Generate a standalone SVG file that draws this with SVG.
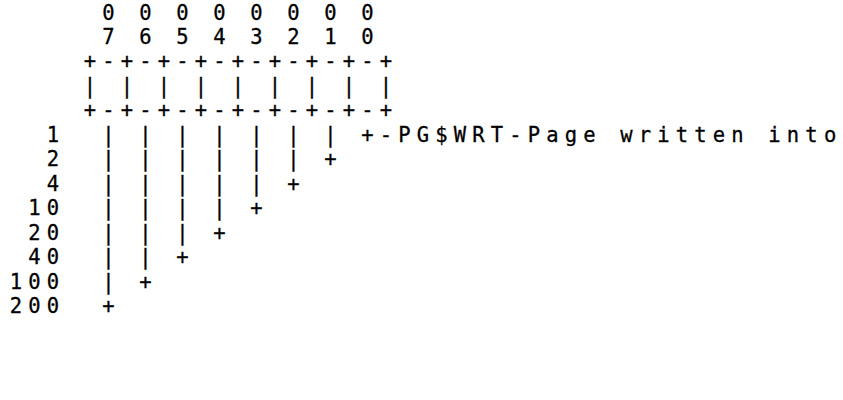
<svg xmlns="http://www.w3.org/2000/svg" width="843" height="400" viewBox="0 0 843 400">
  <style>
    text {
      font-family: "DejaVu Sans Mono", "Liberation Mono", monospace;
      font-size: 20.5px;
      letter-spacing: 6.16px;
      fill: #000;
      stroke: #000;
      stroke-width: 0.3px;
      white-space: pre;
    }
  </style>
  <rect width="843" height="400" fill="#fff"/>

  <!-- bit numbers above the register -->
  <g id="bit-numbers">
    <text x="102.33" y="19.5">0 0 0 0 0 0 0 0</text>
    <text x="102.33" y="44">7 6 5 4 3 2 1 0</text>
  </g>

  <!-- the 8-bit register box -->
  <g id="register">
    <text x="83.83" y="68.4">+-+-+-+-+-+-+-+-+</text>
    <text x="83.83" y="92.9">| | | | | | | | |</text>
    <text x="83.83" y="117.3">+-+-+-+-+-+-+-+-+</text>
  </g>

  <!-- value labels for each bit (octal) -->
  <g id="labels">
    <text x="46.83" y="141.8">1</text>
    <text x="46.83" y="166.2">2</text>
    <text x="46.83" y="190.7">4</text>
    <text x="28.33" y="215.1">10</text>
    <text x="28.33" y="239.6">20</text>
    <text x="28.33" y="264">40</text>
    <text x="9.83" y="288.5">100</text>
    <text x="9.83" y="312.9">200</text>
  </g>

  <!-- leader lines from each bit down to its row -->
  <g id="connectors">
    <text x="102.33" y="141.8">| | | | | | | +</text>
    <text x="102.33" y="166.2">| | | | | | +</text>
    <text x="102.33" y="190.7">| | | | | +</text>
    <text x="102.33" y="215.1">| | | | +</text>
    <text x="102.33" y="239.6">| | | +</text>
    <text x="102.33" y="264">| | +</text>
    <text x="102.33" y="288.5">| +</text>
    <text x="102.33" y="312.9">+</text>
  </g>

  <!-- bit 0 field description -->
  <g id="field-pgwrt">
    <text x="379.83" y="141.8">-PG$WRT-Page written into</text>
  </g>
</svg>
